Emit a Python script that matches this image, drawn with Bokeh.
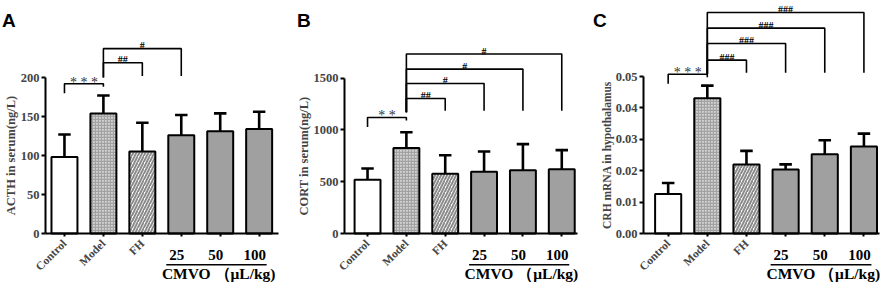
import math
from bokeh.plotting import figure
from bokeh.models import Range1d, FixedTicker, ColumnDataSource, NumeralTickFormatter
from bokeh.layouts import row
from bokeh.embed import file_html
from bokeh.resources import INLINE
from bokeh.core.properties import value

# ---------------- data ----------------
groups = ["Control", "Model", "FH", "25", "50", "100"]
dose_unit = "CMVO （μL/kg)"

acth_mean = [98, 154, 105, 126, 131, 134]
acth_sd = [29, 23, 37, 26, 23, 22]

cort_mean = [518, 826, 576, 595, 611, 621]
cort_sd = [110, 152, 180, 197, 252, 184]

crh_mean = [0.0126, 0.0431, 0.0220, 0.0204, 0.0252, 0.0277]
crh_sd = [0.0035, 0.0040, 0.0043, 0.0016, 0.0045, 0.0041]

# significance brackets: (group i, group j, bracket height, label)
acth_sig = [(0, 1, 192, "* * *"), (1, 2, 219, "##"), (1, 3, 237, "#")]
cort_sig = [(0, 1, 1120, "* *"), (1, 2, 1303, "##"), (1, 3, 1448, "#"),
            (1, 4, 1587, "#"), (1, 5, 1732, "#")]
crh_sig = [(0, 1, 0.0507, "* * *"), (1, 2, 0.0552, "###"), (1, 3, 0.0605, "###"),
           (1, 4, 0.0654, "###"), (1, 5, 0.0704, "###")]
# lower end of the "#" bracket legs
acth_leg_end = 202
cort_leg_end = 1185
crh_leg_end = 0.0512

# ---------------- style ----------------
SERIF = "Liberation Serif"
SANS = "Liberation Sans"
FILL = ["#ffffff", "#d2d2d2", "#ffffff", "#a0a0a0", "#a0a0a0", "#a0a0a0"]
HATCH = [" ", "+", "/", " ", " ", " "]
HATCH_COLOR = ["#ffffff", "#a2a2a2", "#8c8c8c", "#a0a0a0", "#a0a0a0", "#a0a0a0"]
HATCH_SCALE = [6, 3, 6, 6, 6, 6]
HATCH_WEIGHT = [1, 1.3, 2, 1, 1, 1]

H = 286
ZERO_PX = 233          # pixel row of the value 0


def make_panel(letter, means, sds, ylabel, yticks, px_per_unit, width, axis_px,
               xlim, sig, leg_end, fmt=None, ylabel_size="12.5px"):
    x_px = xlim[2] / (xlim[1] - xlim[0])        # pixels per x unit
    x_lo = xlim[0] - axis_px / x_px
    x_hi = x_lo + width / x_px
    y_hi = ZERO_PX / px_per_unit
    y_lo = -(H - ZERO_PX) / px_per_unit

    def py(n):  # vertical pixel distance -> data units
        return n / px_per_unit

    def pxx(n):  # horizontal pixel distance -> data units
        return n / x_px

    p = figure(width=width, height=H, x_range=Range1d(x_lo, x_hi), y_range=Range1d(y_lo, y_hi),
               output_backend="svg", toolbar_location=None,
               min_border_left=0, min_border_right=0, min_border_top=0, min_border_bottom=0)
    p.outline_line_color = None
    p.grid.visible = False

    x = list(range(1, len(groups) + 1))
    src = ColumnDataSource(dict(x=x, top=means, fill=FILL, hatch=HATCH, hc=HATCH_COLOR,
                                hs=HATCH_SCALE, hw=HATCH_WEIGHT))
    err_top = [m + s for m, s in zip(means, sds)]
    p.segment(x0=x, y0=means, x1=x, y1=err_top, line_color="black", line_width=2.6)
    p.segment(x0=[xi - 0.16 for xi in x], y0=err_top, x1=[xi + 0.16 for xi in x],
              y1=err_top, line_color="black", line_width=2.6)
    p.vbar(x="x", top="top", bottom=0, width=0.667, source=src, fill_color="fill",
           line_color="black", line_width=2, hatch_pattern="hatch", hatch_color="hc",
           hatch_scale="hs", hatch_weight="hw")

    # significance brackets
    xs_l, ys_l = [], []
    tx, ty, tt, ax, ay, at = [], [], [], [], [], []
    for (i, j, h, lab) in sig:
        xi, xj = x[i], x[j]
        if i == 0:
            xs_l.append([xi, xi, xj, xj])
            ys_l.append([h - py(9.5), h, h, h - py(3)])
        else:
            xs_l.append([xi, xi, xj, xj])
            ys_l.append([leg_end - py(1.5), h, h, leg_end])
        if lab.startswith("*"):
            ax.append((xi + xj) / 2); ay.append(h + py(1.5)); at.append(lab)
        else:
            tx.append((xi + xj) / 2); ty.append(h + py(3)); tt.append(lab)
    p.multi_line(xs_l, ys_l, line_color="black", line_width=1.6)
    p.text(x=tx, y=ty, text=tt, text_align="center", text_baseline="alphabetic",
           text_font=value(SERIF), text_font_size="10px", text_font_style="bold",
           text_color="black")
    p.text(x=ax, y=ay, text=at, text_align="center", text_baseline="alphabetic",
           text_font=value(SERIF), text_font_size="14px", text_color="#333333")

    # axes (fixed inside the frame so that the whole panel is one drawing area)
    yax = p.yaxis[0]
    yax.fixed_location = xlim[0]
    yax.ticker = FixedTicker(ticks=yticks)
    yax.bounds = (yticks[0], yticks[-1])
    yax.axis_label = ylabel
    if fmt:
        yax.formatter = NumeralTickFormatter(format=fmt)
    yax.axis_label_text_font = SERIF
    yax.axis_label_text_font_style = "bold"
    yax.axis_label_text_font_size = ylabel_size
    yax.axis_label_standoff = 0
    yax.major_label_text_font = SERIF
    yax.major_label_text_font_style = "bold"
    yax.major_label_text_font_size = "12.5px"
    yax.major_label_standoff = 2
    yax.major_tick_out = 4
    yax.major_tick_in = 0
    yax.minor_tick_out = 0
    yax.minor_tick_in = 0
    yax.axis_line_width = 2
    yax.major_tick_line_width = 2

    xax = p.xaxis[0]
    xax.fixed_location = 0
    xax.bounds = (xlim[0], xlim[1])
    xax.ticker = FixedTicker(ticks=x)
    xax.major_label_overrides = {xi: (g if k < 3 else "") for k, (xi, g) in enumerate(zip(x, groups))}
    xax.major_label_orientation = math.pi / 4
    xax.major_label_text_font = SERIF
    xax.major_label_text_font_style = "bold"
    xax.major_label_text_font_size = "11.5px"
    xax.major_label_standoff = 5
    xax.major_tick_out = 3
    xax.major_tick_in = 0
    xax.minor_tick_out = 0
    xax.axis_line_width = 2
    xax.major_tick_line_width = 2

    # dose labels under the axis
    p.text(x=[xi - pxx(4.5) for xi in x[3:]], y=[-py(21.7)] * 3, text=groups[3:],
           text_align="center", text_baseline="middle", text_font=value(SERIF),
           text_font_size="15px", text_font_style="bold", text_color="black")
    p.quad(left=[x[3] - pxx(15)], right=[x[5] + pxx(7.5)],
           top=[-py(30.6)], bottom=[-py(32.0)],
           fill_color="black", line_color=None)
    p.text(x=[x[4] - pxx(1.5)], y=[-py(40)], text=[dose_unit], text_align="center",
           text_baseline="middle", text_font=value(SERIF), text_font_size="15.5px",
           text_font_style="bold", text_color="black")

    # panel letter
    p.text(x=[x_lo + pxx(1.5)], y=[y_hi - py(20)], text=[letter], text_align="left",
           text_baseline="alphabetic", text_font=value(SANS), text_font_size="19px",
           text_font_style="bold", text_color="black")
    return p


# xlim = (axis start, axis end, axis length in px)
pA = make_panel("A", acth_mean, acth_sd, "ACTH in serum(ng/L)", [0, 50, 100, 150, 200],
                0.78, 295, 45, (0.513, 6.497, 233), acth_sig, acth_leg_end)
pB = make_panel("B", cort_mean, cort_sd, "CORT in serum(ng/L)", [0, 500, 1000, 1500],
                0.1036, 296, 49, (0.407, 6.405, 233), cort_sig, cort_leg_end)
pC = make_panel("C", crh_mean, crh_sd, "CRH mRNA in hypothalamus",
                [0, 0.01, 0.02, 0.03, 0.04, 0.05], 157 / 0.05, 295, 52, (0.37, 6.398, 236),
                crh_sig, crh_leg_end, fmt="0.00", ylabel_size="11.5px")

layout = row(pA, pB, pC)
open("out.html", "w").write(file_html(layout, INLINE))
